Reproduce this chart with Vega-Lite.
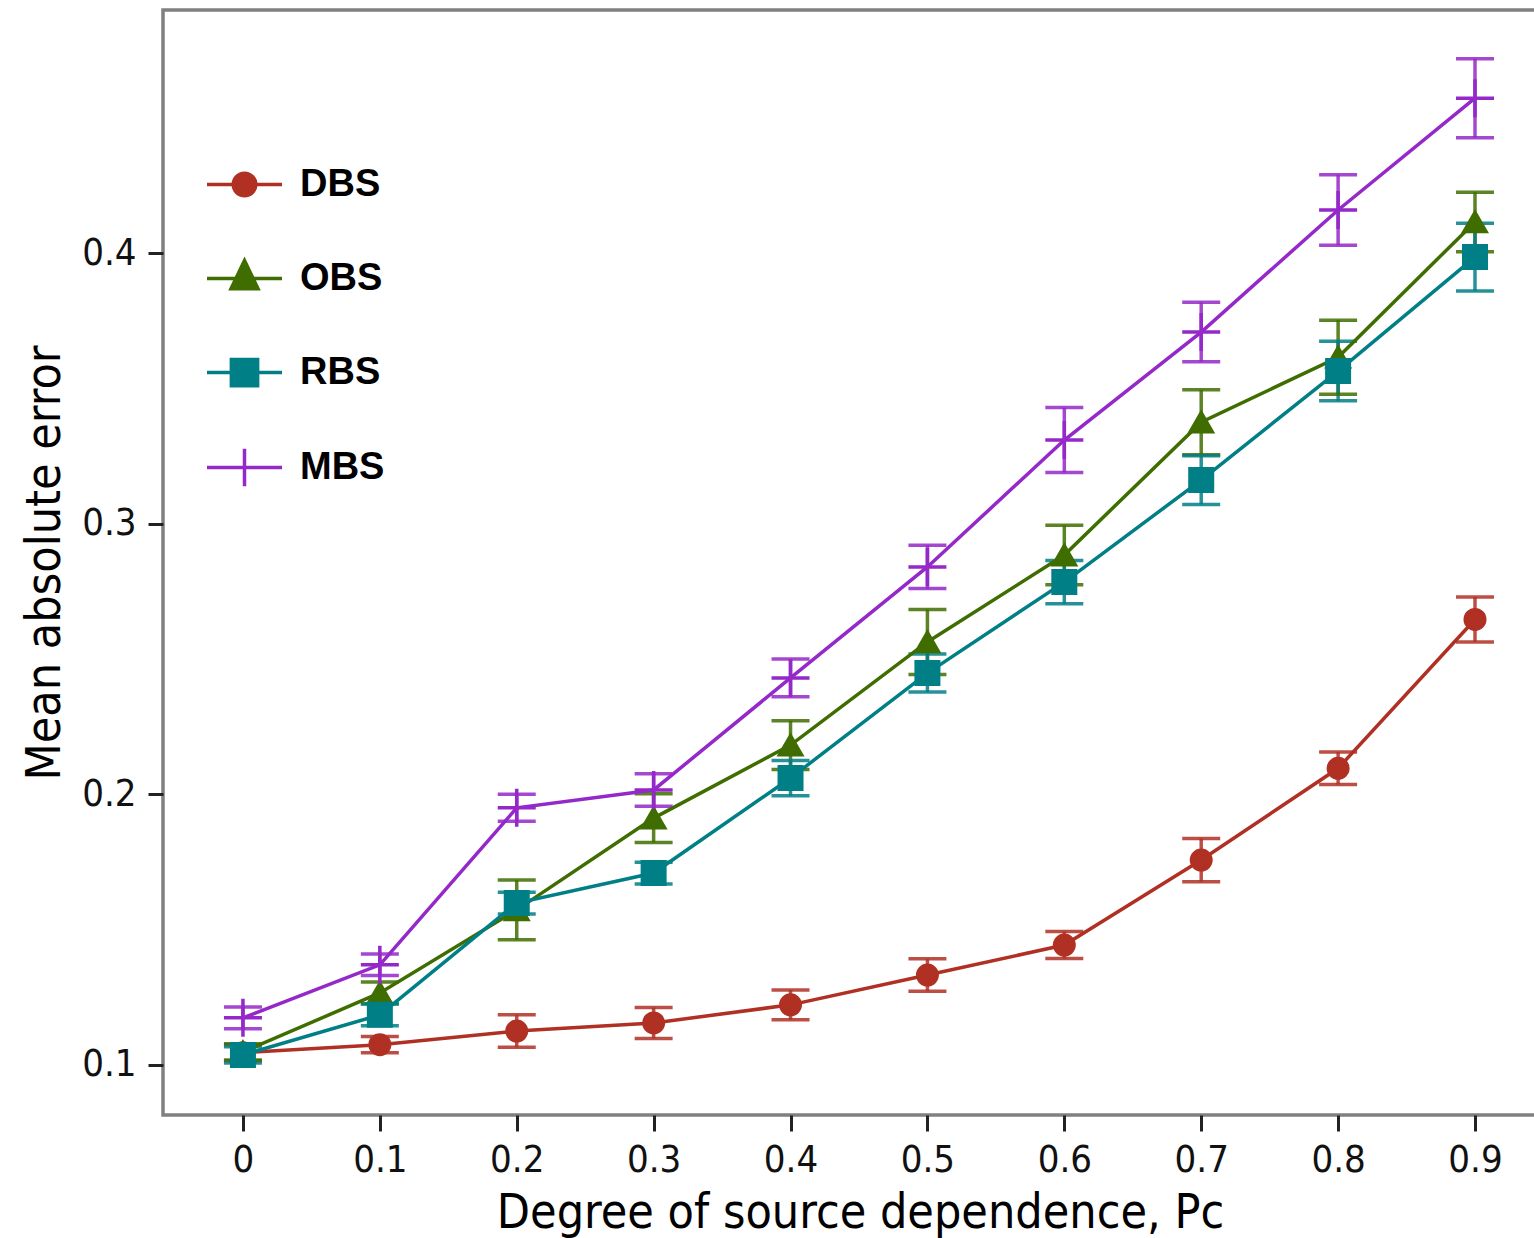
{
  "$schema": "https://vega.github.io/schema/vega-lite/v6.json",
  "autosize": {"type": "none"},
  "padding": {"left": 163, "top": 10, "right": 0, "bottom": 123},
  "width": 1394,
  "height": 1105,
  "background": "white",
  "config": {
    "view": {"stroke": "#808080", "strokeWidth": 3.5},
    "font": "Liberation Sans Narrow, DejaVu Sans Condensed, Liberation Sans, sans-serif"
  },
  "data": {
    "values": [
      {"p": 0.0, "series": "DBS", "y": 0.1045, "lo": 0.1015, "hi": 0.1075},
      {"p": 0.1, "series": "DBS", "y": 0.1075, "lo": 0.1045, "hi": 0.1105},
      {"p": 0.2, "series": "DBS", "y": 0.1125, "lo": 0.1065, "hi": 0.1185},
      {"p": 0.3, "series": "DBS", "y": 0.1155, "lo": 0.1098, "hi": 0.1212},
      {"p": 0.4, "series": "DBS", "y": 0.1222, "lo": 0.1167, "hi": 0.1277},
      {"p": 0.5, "series": "DBS", "y": 0.1332, "lo": 0.1272, "hi": 0.1392},
      {"p": 0.6, "series": "DBS", "y": 0.1443, "lo": 0.1393, "hi": 0.1493},
      {"p": 0.7, "series": "DBS", "y": 0.1757, "lo": 0.1677, "hi": 0.1837},
      {"p": 0.8, "series": "DBS", "y": 0.2096, "lo": 0.2036, "hi": 0.2156},
      {"p": 0.9, "series": "DBS", "y": 0.2646, "lo": 0.2563, "hi": 0.2729},
      {"p": 0.0, "series": "OBS", "y": 0.1048, "lo": 0.1018, "hi": 0.1078},
      {"p": 0.1, "series": "OBS", "y": 0.1266, "lo": 0.1226, "hi": 0.1306},
      {"p": 0.2, "series": "OBS", "y": 0.1573, "lo": 0.1463, "hi": 0.1683},
      {"p": 0.3, "series": "OBS", "y": 0.1912, "lo": 0.1822, "hi": 0.2002},
      {"p": 0.4, "series": "OBS", "y": 0.2182, "lo": 0.2092, "hi": 0.2272},
      {"p": 0.5, "series": "OBS", "y": 0.2563, "lo": 0.2443, "hi": 0.2683},
      {"p": 0.6, "series": "OBS", "y": 0.2884, "lo": 0.2774, "hi": 0.2994},
      {"p": 0.7, "series": "OBS", "y": 0.3375, "lo": 0.3255, "hi": 0.3495},
      {"p": 0.8, "series": "OBS", "y": 0.3615, "lo": 0.3478, "hi": 0.3752},
      {"p": 0.9, "series": "OBS", "y": 0.4115, "lo": 0.4005, "hi": 0.4225},
      {"p": 0.0, "series": "RBS", "y": 0.1037, "lo": 0.1007, "hi": 0.1067},
      {"p": 0.1, "series": "RBS", "y": 0.1185, "lo": 0.1145, "hi": 0.1225},
      {"p": 0.2, "series": "RBS", "y": 0.1598, "lo": 0.1558, "hi": 0.1638},
      {"p": 0.3, "series": "RBS", "y": 0.1709, "lo": 0.1669, "hi": 0.1749},
      {"p": 0.4, "series": "RBS", "y": 0.2060, "lo": 0.1995, "hi": 0.2125},
      {"p": 0.5, "series": "RBS", "y": 0.2448, "lo": 0.2378, "hi": 0.2518},
      {"p": 0.6, "series": "RBS", "y": 0.2784, "lo": 0.2704, "hi": 0.2864},
      {"p": 0.7, "series": "RBS", "y": 0.3161, "lo": 0.3071, "hi": 0.3251},
      {"p": 0.8, "series": "RBS", "y": 0.3564, "lo": 0.3454, "hi": 0.3674},
      {"p": 0.9, "series": "RBS", "y": 0.3985, "lo": 0.3860, "hi": 0.4110},
      {"p": 0.0, "series": "MBS", "y": 0.1174, "lo": 0.1134, "hi": 0.1214},
      {"p": 0.1, "series": "MBS", "y": 0.1370, "lo": 0.1330, "hi": 0.1410},
      {"p": 0.2, "series": "MBS", "y": 0.1950, "lo": 0.1900, "hi": 0.2000},
      {"p": 0.3, "series": "MBS", "y": 0.2016, "lo": 0.1956, "hi": 0.2076},
      {"p": 0.4, "series": "MBS", "y": 0.2430, "lo": 0.2360, "hi": 0.2500},
      {"p": 0.5, "series": "MBS", "y": 0.2840, "lo": 0.2760, "hi": 0.2920},
      {"p": 0.6, "series": "MBS", "y": 0.3309, "lo": 0.3189, "hi": 0.3429},
      {"p": 0.7, "series": "MBS", "y": 0.3708, "lo": 0.3598, "hi": 0.3818},
      {"p": 0.8, "series": "MBS", "y": 0.4159, "lo": 0.4029, "hi": 0.4289},
      {"p": 0.9, "series": "MBS", "y": 0.4572, "lo": 0.4426, "hi": 0.4718}
    ]
  },
  "encoding": {
    "x": {
      "field": "p", "type": "quantitative",
      "scale": {"domain": [-0.0584, 0.9599], "nice": false, "zero": false},
      "axis": {
        "title": "Degree of source dependence, Pᴄ",
        "values": [0, 0.1, 0.2, 0.3, 0.4, 0.5, 0.6, 0.7, 0.8, 0.9],
        "format": ".1~f",
        "domain": false, "grid": false,
        "tickColor": "#222", "tickWidth": 3, "tickSize": 16,
        "labelFontSize": 38, "labelColor": "#111", "labelPadding": 10, "labelFlush": false,
        "titleFontSize": 48, "titleFontWeight": "normal", "titleColor": "#000", "titlePadding": 10
      }
    },
    "y": {
      "field": "y", "type": "quantitative",
      "scale": {"domain": [0.0815, 0.4898], "nice": false, "zero": false},
      "axis": {
        "title": "Mean absolute error",
        "values": [0.1, 0.2, 0.3, 0.4],
        "format": ".1f",
        "domain": false, "grid": false,
        "tickColor": "#222", "tickWidth": 3, "tickSize": 15,
        "labelFontSize": 38, "labelColor": "#111", "labelPadding": 12,
        "titleFontSize": 48, "titleFontWeight": "normal", "titleColor": "#000", "titlePadding": 12
      }
    },
    "color": {
      "field": "series", "type": "nominal",
      "scale": {"domain": ["DBS", "OBS", "RBS", "MBS"], "range": ["#B03024", "#3F6D00", "#007F86", "#9428C8"]},
      "legend": {
        "title": null,
        "orient": "none",
        "legendX": 42,
        "legendY": 135,
        "padding": 0,
        "symbolType": "M-1,0H1",
        "symbolSize": 5625,
        "symbolStrokeWidth": 3.5,
        "rowPadding": 35,
        "labelOffset": 16,
        "labelFontSize": 38,
        "labelFontWeight": "bold",
        "labelFont": "Liberation Sans, sans-serif",
        "labelColor": "#000",
        "encode": {
          "symbols": {
            "update": {
              "shape": {"signal": "datum.value === 'DBS' ? 'M-1,0H1M-0.3,0A0.3,0.3 0 1,0 0.3,0A0.3,0.3 0 1,0 -0.3,0Z' : datum.value === 'OBS' ? 'M-1,0H1M0,-0.48L0.36,0.27H-0.36Z' : datum.value === 'RBS' ? 'M-1,0H1M-0.35,-0.35H0.35V0.35H-0.35Z' : 'M-1,0H1M0,-0.5V0.5'"},
              "fill": {"scale": "color", "field": "value"},
              "stroke": {"scale": "color", "field": "value"},
              "strokeWidth": {"value": 3.5},
              "opacity": {"value": 1},
              "fillOpacity": {"value": 1},
              "strokeOpacity": {"value": 1}
            }
          }
        }
      }
    }
  },
  "layer": [
    {
      "mark": {"type": "rule", "strokeWidth": 3.5, "opacity": 0.85},
      "encoding": {
        "y": {"field": "lo", "type": "quantitative"},
        "y2": {"field": "hi"}
      }
    },
    {
      "mark": {"type": "tick", "orient": "horizontal", "size": 38, "thickness": 3.5, "opacity": 0.85},
      "encoding": {
        "y": {"field": "lo", "type": "quantitative"}
      }
    },
    {
      "mark": {"type": "tick", "orient": "horizontal", "size": 38, "thickness": 3.5, "opacity": 0.85},
      "encoding": {
        "y": {"field": "hi", "type": "quantitative"}
      }
    },
    {
      "mark": {"type": "line", "strokeWidth": 3.5}
    },
    {
      "transform": [{"filter": "datum.series === 'DBS'"}],
      "mark": {"type": "point", "shape": "circle", "size": 400, "filled": true, "opacity": 1, "fill": "#B03024", "stroke": "#B03024", "strokeWidth": 3},
      "encoding": {"color": {"value": "#B03024"}}
    },
    {
      "transform": [{"filter": "datum.series === 'OBS'"}],
      "mark": {"type": "point", "shape": "triangle-up", "size": 520, "filled": true, "opacity": 1, "fill": "#3F6D00", "stroke": "#3F6D00", "strokeWidth": 3},
      "encoding": {"color": {"value": "#3F6D00"}}
    },
    {
      "transform": [{"filter": "datum.series === 'RBS'"}],
      "mark": {"type": "point", "shape": "square", "size": 529, "filled": true, "opacity": 1, "fill": "#007F86", "stroke": "#007F86", "strokeWidth": 3},
      "encoding": {"color": {"value": "#007F86"}}
    },
    {
      "transform": [{"filter": "datum.series === 'MBS'"}],
      "mark": {"type": "point", "shape": "M-1,0H1M0,-1V1", "size": 1444, "filled": false, "opacity": 1, "stroke": "#9428C8", "strokeWidth": 3.5},
      "encoding": {"color": {"value": "#9428C8"}}
    }
  ]
}
